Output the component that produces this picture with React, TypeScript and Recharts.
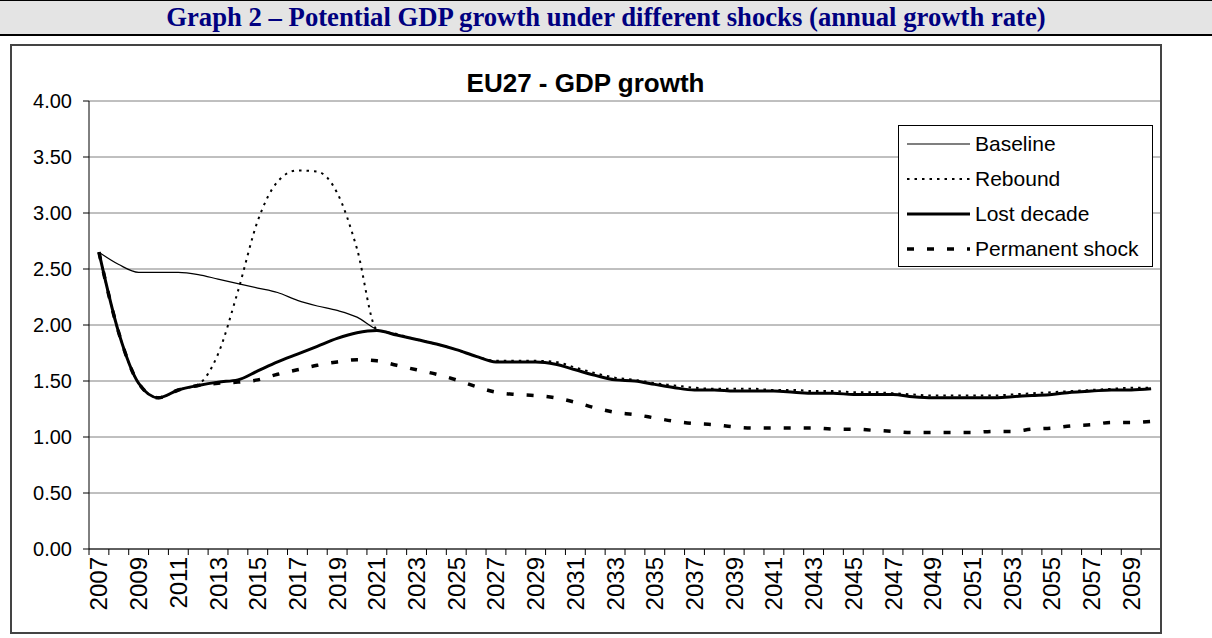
import { CartesianGrid, Legend, Line, LineChart, XAxis, YAxis } from 'recharts';

const YEARS = [
  2007, 2008, 2009, 2010, 2011, 2012, 2013, 2014, 2015, 2016, 2017, 2018, 2019, 2020,
  2021, 2022, 2023, 2024, 2025, 2026, 2027, 2028, 2029, 2030, 2031, 2032, 2033, 2034,
  2035, 2036, 2037, 2038, 2039, 2040, 2041, 2042, 2043, 2044, 2045, 2046, 2047, 2048,
  2049, 2050, 2051, 2052, 2053, 2054, 2055, 2056, 2057, 2058, 2059, 2060,
];

const BASELINE = [
  2.65, 2.54, 2.47, 2.47, 2.47, 2.45, 2.41, 2.37, 2.33, 2.29, 2.22, 2.17, 2.13, 2.07,
  1.96, 1.91, 1.87, 1.83, 1.78, 1.72, 1.67, 1.67, 1.67, 1.65, 1.6, 1.55, 1.51, 1.5,
  1.47, 1.44, 1.42, 1.42, 1.41, 1.41, 1.41, 1.4, 1.39, 1.39, 1.38, 1.38, 1.38, 1.36,
  1.35, 1.35, 1.35, 1.35, 1.36, 1.37, 1.38, 1.4, 1.41, 1.42, 1.42, 1.43,
];

const REBOUND = [
  2.65, 1.93, 1.48, 1.35, 1.42, 1.47, 1.74, 2.3, 2.93, 3.28, 3.38, 3.37, 3.18, 2.68,
  1.96, 1.92, 1.87, 1.83, 1.78, 1.72, 1.68, 1.68, 1.68, 1.67, 1.62, 1.57, 1.53, 1.51,
  1.48, 1.46, 1.44, 1.43, 1.43, 1.43, 1.42, 1.42, 1.41, 1.41, 1.4, 1.4, 1.39, 1.38,
  1.37, 1.37, 1.37, 1.37, 1.38, 1.39, 1.4, 1.41, 1.42, 1.43, 1.44, 1.44,
];

const LOST_DECADE = [
  2.65, 1.93, 1.48, 1.35, 1.42, 1.46, 1.49, 1.51, 1.59, 1.67, 1.74, 1.81, 1.88, 1.93,
  1.95, 1.91, 1.87, 1.83, 1.78, 1.72, 1.67, 1.67, 1.67, 1.65, 1.6, 1.55, 1.51, 1.5,
  1.47, 1.44, 1.42, 1.42, 1.41, 1.41, 1.41, 1.4, 1.39, 1.39, 1.38, 1.38, 1.38, 1.36,
  1.35, 1.35, 1.35, 1.35, 1.36, 1.37, 1.38, 1.4, 1.41, 1.42, 1.42, 1.43,
];

const PERMANENT_SHOCK = [
  2.65, 1.93, 1.48, 1.35, 1.42, 1.46, 1.48, 1.49, 1.51, 1.56, 1.6, 1.64, 1.67, 1.69,
  1.68, 1.64, 1.6, 1.56, 1.51, 1.45, 1.4, 1.38, 1.37, 1.35, 1.31, 1.26, 1.22, 1.2,
  1.17, 1.14, 1.12, 1.11, 1.09, 1.08, 1.08, 1.08, 1.08, 1.07, 1.07, 1.06, 1.05, 1.04,
  1.04, 1.04, 1.04, 1.05, 1.05, 1.07, 1.08, 1.1, 1.11, 1.13, 1.13, 1.14,
];

const LABEL_YEARS = [
  2007, 2009, 2011, 2013, 2015, 2017, 2019, 2021, 2023, 2025, 2027, 2029, 2031, 2033,
  2035, 2037, 2039, 2041, 2043, 2045, 2047, 2049, 2051, 2053, 2055, 2057, 2059,
];

const Y_TICKS = [0, 0.5, 1, 1.5, 2, 2.5, 3, 3.5, 4];

const SERIES = [
  { key: 'baseline', name: 'Baseline', width: 1.2, dash: undefined },
  { key: 'rebound', name: 'Rebound', width: 2, dash: '2.5 5' },
  { key: 'lostDecade', name: 'Lost decade', width: 3, dash: undefined },
  { key: 'permanentShock', name: 'Permanent shock', width: 3.5, dash: '7 13' },
];

const data = YEARS.map((year, i) => ({
  year,
  baseline: BASELINE[i],
  rebound: REBOUND[i],
  lostDecade: LOST_DECADE[i],
  permanentShock: PERMANENT_SHOCK[i],
}));

// category boundaries get a tick mark, odd years get a label
const boundaries = [...YEARS.map((y) => y - 0.5), YEARS[YEARS.length - 1] + 0.5];
const xTicks = [...boundaries, ...LABEL_YEARS].sort((a, b) => a - b);

const SANS = '"Liberation Sans", Arial, Helvetica, sans-serif';

function YearTick({ x, y, payload }: { x: number; y: number; payload: { value: number } }) {
  const v = Number(payload.value);
  if (!Number.isInteger(v)) {
    return <line x1={x} x2={x} y1={y} y2={y + 6} stroke="#000" strokeWidth={1} />;
  }
  const ty = y + 8;
  return (
    <text
      x={x}
      y={ty}
      transform={`rotate(-90, ${x}, ${ty})`}
      textAnchor="end"
      dominantBaseline="central"
      fill="#000"
      fontSize={24}
      fontFamily={SANS}
    >
      {v}
    </text>
  );
}

function LegendBox() {
  return (
    <div
      style={{
        width: 255,
        height: 142,
        boxSizing: 'border-box',
        border: '1px solid #000',
        background: '#fff',
        fontFamily: SANS,
        fontSize: 21,
        color: '#000',
      }}
    >
      {SERIES.map((s) => (
        <div key={s.key} style={{ height: 35, display: 'flex', alignItems: 'center' }}>
          <svg width={76} height={20} style={{ display: 'block' }}>
            <line
              x1={8}
              x2={71}
              y1={10}
              y2={10}
              stroke="#000"
              strokeWidth={s.width}
              strokeDasharray={s.dash}
            />
          </svg>
          <span style={{ lineHeight: '35px' }}>{s.name}</span>
        </div>
      ))}
    </div>
  );
}

export default function App() {
  return (
    <div
      style={{
        position: 'fixed',
        left: 0,
        top: 0,
        width: 1212,
        height: 638,
        background: '#fff',
        overflow: 'hidden',
      }}
    >
      <div
        style={{
          position: 'absolute',
          left: 0,
          top: 0,
          width: 1212,
          height: 36,
          boxSizing: 'border-box',
          background: '#e4e4e4',
          borderTop: '1px solid #000',
          borderBottom: '2px solid #000',
          textAlign: 'center',
          fontFamily: '"Liberation Serif", "Times New Roman", serif',
          fontWeight: 'bold',
          fontSize: 26.7,
          lineHeight: '33px',
          color: '#000080',
        }}
      >
        Graph 2 – Potential GDP growth under different shocks (annual growth rate)
      </div>

      <div style={{ position: 'absolute', left: 10, top: 44 }}>
        <LineChart
          width={1151}
          height={589}
          data={data}
          margin={{ top: 57, right: 0, bottom: 0, left: 0 }}
        >
          <CartesianGrid vertical={false} stroke="#808080" strokeWidth={1} />
          <XAxis
            dataKey="year"
            type="number"
            domain={[2006.5, 2060.5]}
            ticks={xTicks}
            interval={0}
            height={84}
            tickSize={0}
            tickMargin={0}
            tickLine={false}
            axisLine={{ stroke: '#000', strokeWidth: 1 }}
            tick={(props: any) => <YearTick {...props} />}
          />
          <YAxis
            type="number"
            domain={[0, 4]}
            ticks={Y_TICKS}
            width={79}
            tickSize={6}
            tickMargin={11}
            tickFormatter={(v: number) => v.toFixed(2)}
            tick={{ fill: '#000', fontSize: 20, fontFamily: SANS }}
            tickLine={{ stroke: '#000' }}
            axisLine={{ stroke: '#000', strokeWidth: 1 }}
          />
          {SERIES.map((s) => (
            <Line
              key={s.key}
              type="monotone"
              dataKey={s.key}
              name={s.name}
              stroke="#000"
              strokeWidth={s.width}
              strokeDasharray={s.dash}
              dot={false}
              activeDot={false}
              isAnimationActive={false}
            />
          ))}
          <Legend
            layout="vertical"
            align="center"
            verticalAlign="middle"
            wrapperStyle={{ left: 888, top: 81, width: 255 }}
            content={() => <LegendBox />}
          />
        </LineChart>
        <div
          style={{
            position: 'absolute',
            left: 0,
            top: 24,
            width: 1151,
            textAlign: 'center',
            fontFamily: SANS,
            fontWeight: 'bold',
            fontSize: 26,
            lineHeight: '30px',
            color: '#000',
          }}
        >
          EU27 - GDP growth
        </div>
        <div
          style={{
            position: 'absolute',
            left: 0,
            top: 0,
            width: 1152,
            height: 590,
            boxSizing: 'border-box',
            border: '2px solid #444',
            pointerEvents: 'none',
          }}
        />
      </div>
    </div>
  );
}
